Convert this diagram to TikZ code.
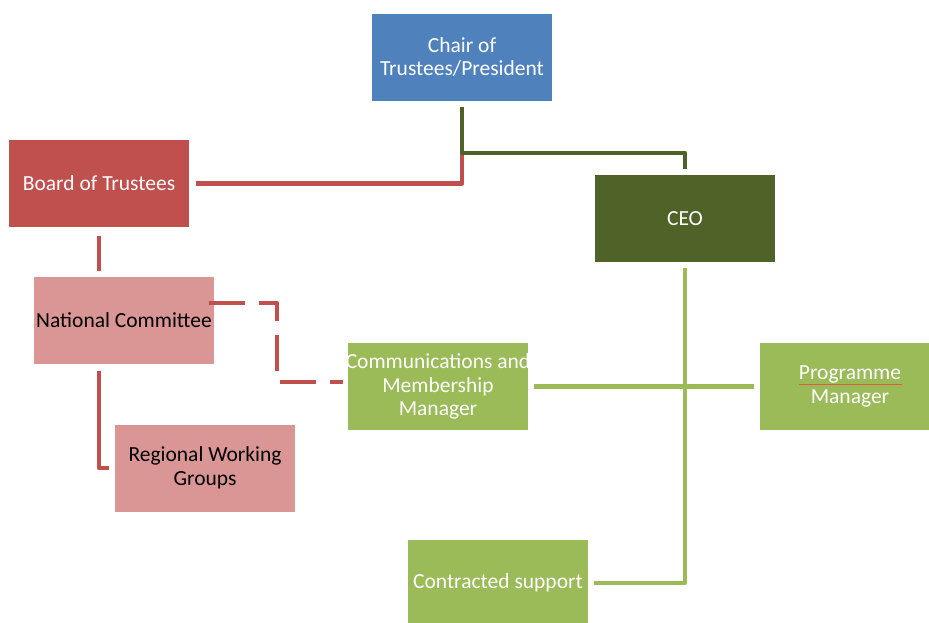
\documentclass[tikz,border=0pt]{standalone}
\usepackage{fontspec}
\setmainfont{Carlito}
\usetikzlibrary{calc}
\definecolor{chairblue}{HTML}{4F81BD}
\definecolor{boardred}{HTML}{C0504D}
\definecolor{ceogreen}{HTML}{4F6228}
\definecolor{committeepink}{HTML}{D99694}
\definecolor{staffgreen}{HTML}{9BBB59}
\definecolor{spellred}{HTML}{D9603B}
\begin{document}
\begin{tikzpicture}[x=1pt,y=-1pt,
  orgbox/.style={rectangle, minimum width=180pt, minimum height=87pt,
    inner sep=0pt, align=center, font=\fontsize{21.5}{23.8}\selectfont},
  lightbox/.style={orgbox, fill=#1, text=white},
  pinkbox/.style={orgbox, fill=committeepink, text=black},
  link/.style={line width=4.5pt, line join=round, draw=#1},
  dashlink/.style={link=boardred, dash pattern=on 36pt off 14pt}]
\useasboundingbox (0,0) rectangle (929,622);
\begin{scope}
  \clip (0,0) rectangle (929,622);
  % boxes
  \node[lightbox=chairblue] (chair) at (462,57) {Chair of\\Trustees/President};
  \node[lightbox=boardred] (board) at (99,183.5) {Board of Trustees};
  \node[lightbox=ceogreen] (ceo) at (685,218.5) {CEO};
  \node[pinkbox] (national) at (124,320.5) {National Committee};
  \node[lightbox=staffgreen] (comms) at (438,386.5) {\makebox[180pt]{Communications and}\\Membership\\Manager};
  \node[lightbox=staffgreen] (prog) at (850,386.5) {Programme\\Manager};
  \node[pinkbox] (regional) at (205,468) {Regional Working\\Groups};
  \node[lightbox=staffgreen] (contracted) at (498,583) {Contracted support};
  % spelling mark under "Programme"
  \draw[spellred, line width=1pt] (799,384) -- (902,384);
\end{scope}
% junction under the chair
\coordinate (j) at (462,153);
\coordinate (bend) at (277,0);
\coordinate (nstart) at ([xshift=-5pt,yshift=17.5pt]national.east);
\coordinate (cw) at ([yshift=4.5pt]comms.west);
% board line up to the chair
\draw[link=boardred, shorten <=7pt] (board.east) -| (j);
% chair to CEO
\draw[link=ceogreen, shorten <=6pt, shorten >=6pt] (chair.south) -- (j) -| (ceo.north);
% board to national committee to regional groups
\draw[link=boardred, shorten <=9pt, shorten >=6pt] (board.south) -- (board.south |- national.north);
\draw[link=boardred, shorten <=7pt, shorten >=6pt] (board.south |- national.south) |- (regional.west);
% dashed link national committee to communications
\draw[dashlink, shorten >=5pt] (nstart) -- (bend |- nstart) -- (bend |- cw) -- (cw);
% CEO reports
\draw[link=staffgreen, shorten <=6pt, shorten >=6pt] (ceo.south) |- (contracted.east);
\draw[link=staffgreen, shorten <=6pt, shorten >=6pt] (comms.east) -- (prog.west);
\end{tikzpicture}
\end{document}
